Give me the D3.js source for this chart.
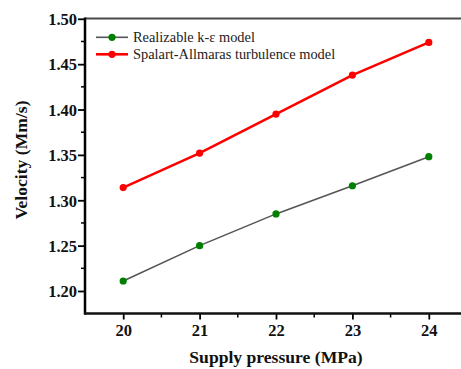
<!DOCTYPE html>
<html>
<head>
<meta charset="utf-8">
<script src="https://cdn.jsdelivr.net/npm/d3@7"></script>
<style>
  html, body { margin: 0; padding: 0; background: #fff; }
  svg { display: block; }
</style>
</head>
<body>
<svg id="chart" width="461" height="369"></svg>
<script>
const pressures = [20, 21, 22, 23, 24];
const realizableKE = [1.211, 1.250, 1.285, 1.316, 1.348];
const spalartAllmaras = [1.314, 1.352, 1.395, 1.438, 1.474];
const seriesNames = ["Realizable k-\u03b5 model", "Spalart-Allmaras turbulence model"];
const xTicks = [20, 21, 22, 23, 24];
const yTicks = [1.20, 1.25, 1.30, 1.35, 1.40, 1.45, 1.50];

(function () {
const svg = d3.select("#chart");
const mLeft = 85, mTop = 18.5, mBottom = 313.5, mRight = 467;

const x = d3.scaleLinear().domain([19.5, 24.5]).range([mLeft, mRight]);
const y = d3.scaleLinear().domain([1.20, 1.50]).range([291, 18.8]);

const font = "'Liberation Serif', 'Times New Roman', serif";

// top frame line
svg.append("line")
  .attr("x1", mLeft).attr("x2", 461)
  .attr("y1", mTop).attr("y2", mTop)
  .attr("stroke", "#4a4a4a").attr("stroke-width", 2);

// minor y ticks
const yMinor = d3.range(0, 6).map(i => 1.225 + i * 0.05);
svg.selectAll(".ymin").data(yMinor).enter().append("line")
  .attr("x1", mLeft - 4).attr("x2", mLeft)
  .attr("y1", d => y(d)).attr("y2", d => y(d))
  .attr("stroke", "#000").attr("stroke-width", 1.5);
// minor x ticks
const xMinor = [20.5, 21.5, 22.5, 23.5];
svg.selectAll(".xmin").data(xMinor).enter().append("line")
  .attr("x1", d => x(d)).attr("x2", d => x(d))
  .attr("y1", mBottom).attr("y2", mBottom + 4)
  .attr("stroke", "#000").attr("stroke-width", 1.5);

// y axis
const yAxis = svg.append("g").attr("transform", `translate(${mLeft},0)`)
  .call(d3.axisLeft(y).tickValues(yTicks).tickFormat(d3.format(".2f")).tickSize(7).tickSizeOuter(0));
yAxis.select(".domain").remove();
yAxis.append("line").attr("x1", 0).attr("x2", 0).attr("y1", mTop - 1).attr("y2", mBottom + 1)
  .attr("stroke", "#000").attr("stroke-width", 2.5);
yAxis.selectAll(".tick line").attr("stroke", "#000").attr("stroke-width", 1.8);
yAxis.selectAll(".tick text").attr("font-family", font).attr("font-weight", "bold")
  .attr("font-size", 16.5).attr("fill", "#111").attr("x", -8).attr("dy", "0.35em");

// x axis
const xAxis = svg.append("g").attr("transform", `translate(0,${mBottom})`)
  .call(d3.axisBottom(x).tickValues(xTicks).tickFormat(d3.format("d")).tickSize(6).tickSizeOuter(0));
xAxis.select(".domain").remove();
xAxis.append("line").attr("x1", mLeft - 1).attr("x2", 461).attr("y1", 0).attr("y2", 0)
  .attr("stroke", "#111").attr("stroke-width", 2.5);
xAxis.selectAll(".tick line").attr("stroke", "#000").attr("stroke-width", 1.8);
xAxis.selectAll(".tick text").attr("font-family", font).attr("font-weight", "bold")
  .attr("font-size", 16.5).attr("fill", "#111").attr("y", 11);

// axis titles
svg.append("text").attr("x", 276).attr("y", 363).attr("text-anchor", "middle")
  .attr("font-family", font).attr("font-weight", "bold").attr("font-size", 17.6)
  .attr("fill", "#111").text("Supply pressure (MPa)");
svg.append("text").attr("transform", "translate(27,160) rotate(-90)").attr("text-anchor", "middle")
  .attr("font-family", font).attr("font-weight", "bold").attr("font-size", 17.6)
  .attr("fill", "#111").text("Velocity (Mm/s)");

// series
const series = [
  { name: seriesNames[0], values: realizableKE, line: "#555555", marker: "#008000", width: 1.6 },
  { name: seriesNames[1], values: spalartAllmaras, line: "#ff0000", marker: "#ff0000", width: 2.6 }
];
const lineGen = d3.line().x(d => x(d[0])).y(d => y(d[1]));
series.forEach(s => {
  const pts = pressures.map((p, i) => [p, s.values[i]]);
  svg.append("path").datum(pts).attr("d", lineGen)
    .attr("fill", "none").attr("stroke", s.line).attr("stroke-width", s.width);
  svg.selectAll(null).data(pts).enter().append("circle")
    .attr("cx", d => x(d[0])).attr("cy", d => y(d[1])).attr("r", 3.6)
    .attr("fill", s.marker);
});

// legend
const legend = svg.append("g");
series.forEach((s, i) => {
  const ly = 37.3 + i * 17;
  legend.append("line").attr("x1", 96).attr("x2", 128).attr("y1", ly).attr("y2", ly)
    .attr("stroke", s.line).attr("stroke-width", s.width);
  legend.append("circle").attr("cx", 112).attr("cy", ly).attr("r", 3.6).attr("fill", s.marker);
  legend.append("text").attr("x", 133).attr("y", ly + 5)
    .attr("font-family", font).attr("font-size", 14.4).attr("fill", "#222").text(s.name);
});
})();
</script>
</body>
</html>
